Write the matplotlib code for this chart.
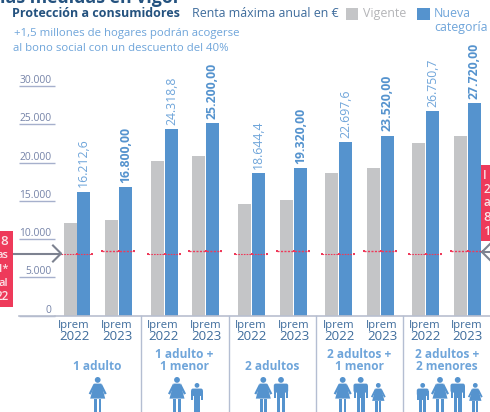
import matplotlib
matplotlib.use("Agg")
import matplotlib.pyplot as plt
from matplotlib.patches import Rectangle, Circle, Polygon, FancyBboxPatch

# ---- data ----
iprem_years = ["2022", "2023"] * 5
vigente = [12100, 12500, 20200, 20860, 14600, 15110, 18640, 19290, 22560, 23470]
nueva = [16212.6, 16800, 24318.8, 25200, 18644.4, 19320, 22697.6, 23520, 26750.7, 27720]
nueva_labels = ["16.212,6", "16.800,00", "24.318,8", "25.200,00", "18.644,4",
                "19.320,00", "22.697,6", "23.520,00", "26.750,7", "27.720,00"]
iprem_refs = [8106.28, 8400] * 5
y_ticks = [0, 5000, 10000, 15000, 20000, 25000, 30000]
y_tick_labels = ["0", "5.000", "10.000", "15.000", "20.000", "25.000", "30.000"]
groups = ["1 adulto", "1 adulto +\n1 menor", "2 adultos", "2 adultos +\n1 menor", "2 adultos +\n2 menores"]

# ---- layout (pixels of the 490x412 picture) ----
W, H = 490, 412
grey_left = [64, 105, 151, 192, 238, 280, 325, 367, 412, 454]
BAR_W = 13
label_x = [74, 117, 163, 206, 251, 294, 339, 382, 425, 467]
group_x = [97, 184, 272, 359, 447]
separators = [141, 228.5, 315.5, 402.5]
people = [("w", 97.7), ("w", 177), ("b", 197), ("w", 263.3), ("m", 281), ("w", 342.7),
          ("m", 360.7), ("g", 378.3), ("b", 422.7), ("w", 440), ("m", 457.7), ("g", 475.3)]

GREY = "#C4C5C7"
BLUE = "#5593CE"
LIGHT = "#6FA5DA"
DARK = "#24527F"
MID = "#3E6C9C"
TICK = "#7583A8"
TICKLINE = "#A6B0CC"
RED = "#EE3A5A"
SEP = "#B4BED2"
FONT = "Open Sans"
plt.rcParams["font.family"] = [FONT, "DejaVu Sans"]

fig = plt.figure(figsize=(W / 100, H / 100), dpi=100, facecolor="white")
ax = fig.add_axes([55 / W, (H - 315.7) / H, (W - 55) / W, 229.7 / H])
ax.set_xlim(55, W)
ax.set_ylim(0, 30000)
ax.patch.set_alpha(0)
for s in ["top", "right", "left"]:
    ax.spines[s].set_visible(False)
ax.spines["bottom"].set_color("#B9BFCF")
ax.spines["bottom"].set_linewidth(1.2)

for i in range(10):
    x = grey_left[i]
    ax.bar(x, vigente[i], width=BAR_W, align="edge", color=GREY, zorder=2)
    bx = x + BAR_W + (0 if i == 0 else 1)
    ax.bar(bx, nueva[i], width=BAR_W, align="edge", color=BLUE, zorder=2)
    bold = i % 2 == 1
    ax.annotate(nueva_labels[i], (bx + BAR_W / 2, nueva[i]), xytext=(0, 3),
                textcoords="offset points", rotation=90, ha="center", va="bottom",
                fontsize=8.8, color=BLUE if bold else LIGHT,
                fontweight="bold" if bold else "normal", zorder=4)
    # reference line of the IPREM across each pair of bars
    x0, x1 = x - 3, bx + BAR_W + 2
    lw = 1.0 if i % 2 == 1 else 0.8
    ax.plot([x0, x1], [iprem_refs[i]] * 2, color=RED, lw=lw, ls=(0, (1.5, 1)), zorder=5)
    ax.plot([x0, bx, x1], [iprem_refs[i]] * 3, ls="", marker="s", ms=1.8, color=RED, mew=0, zorder=6)

# y axis: short rule below each label
ax.set_yticks(y_ticks, y_tick_labels)
ax.tick_params(axis="y", length=26, width=1, color=TICKLINE, labelcolor=TICK,
               labelsize=7.4, pad=-23.5)
for t in ax.get_yticklabels():
    t.set_va("bottom")
    t.set_ha("right")

# x axis
ax.set_xticks(label_x, ["Iprem"] * 10)
ax.tick_params(axis="x", length=0, labelcolor=MID, labelsize=8.1, pad=3)
YEAR_Y = (315.7 - 336) / 229.7 * 30000
for xp, yr in zip(label_x, iprem_years):
    ax.text(xp, YEAR_Y, yr, ha="center", va="center", fontsize=9.5, color=MID, clip_on=False)

# overlay in picture pixels
ov = fig.add_axes([0, 0, 1, 1], zorder=5)
ov.set_xlim(0, W)
ov.set_ylim(H, 0)
ov.axis("off")
ov.patch.set_alpha(0)

for sx in separators:
    ov.plot([sx, sx], [316, H], color=SEP, lw=1)
ov.plot([19, 55], [315.7, 315.7], color="#B9BFCF", lw=1.2)

# top texts
ov.text(0, 3, "las medidas en vigor", fontsize=12.8, fontweight="bold", color=DARK, ha="left", va="baseline")
ov.text(11.5, 13.5, "Protección a consumidores", fontsize=9, fontweight="bold", color=DARK, ha="left", va="center")
ov.text(192, 13.5, "Renta máxima anual en €", fontsize=8.9, color=MID, ha="left", va="center")
ov.add_patch(Rectangle((346, 8), 12, 12, color=GREY, lw=0))
ov.text(363, 13.5, "Vigente", fontsize=8.9, color="#B4B5B8", ha="left", va="center")
ov.add_patch(Rectangle((417, 8), 13, 12, color=BLUE, lw=0))
ov.text(434, 13.5, "Nueva", fontsize=8.9, color=LIGHT, ha="left", va="center")
ov.text(434, 27.5, "categoría", fontsize=8.9, color=LIGHT, ha="left", va="center")
ov.text(14, 33.5, "+1,5 millones de hogares podrán acogerse", fontsize=8.2, color=LIGHT, ha="left", va="center")
ov.text(13, 48, "al bono social con un descuento del 40%", fontsize=8.2, color=LIGHT, ha="left", va="center")

# group names
for gx, name in zip(group_x, groups):
    lines = name.split("\n")
    ys = [367] if len(lines) == 1 else [354, 367]
    for ln, yy in zip(lines, ys):
        ov.text(gx, yy, ln, ha="center", va="center", fontsize=8.6, color=LIGHT, fontweight="bold")

# red side boxes with the cut-off text
ov.add_patch(Rectangle((0, 231), 13, 76, color=RED, lw=0, zorder=6))
for yy, s, sz in [(241, "8", 9.5), (255, "as", 8), (269, "1*", 8), (283, "al", 8), (297, "22", 8.5)]:
    ov.text(8.5, yy, s, ha="right", va="center", color="#FBE3E7", fontsize=sz, fontweight="semibold", zorder=7)
ov.add_patch(Rectangle((481, 165), 9, 76, color=RED, lw=0, zorder=6))
for yy, s, sz in [(175, "I", 8.5), (189, "2", 8.5), (202, "a", 8.5), (217, "8", 9.5), (231, "1", 9.5)]:
    ov.text(483, yy, s, ha="left", va="center", color="#FBE3E7", fontsize=sz, fontweight="semibold", zorder=7)

# arrows
ARW = "#7D8290"
ov.plot([13, 61], [253.5, 253.5], color=ARW, lw=1.5)
ov.plot([53, 61, 53], [245.5, 253.5, 261.5], color=ARW, lw=1.5)
ov.plot([482, 490], [252, 252], color=ARW, lw=1.5)
ov.plot([490, 482, 490], [244, 252, 260], color=ARW, lw=1.5)


def woman(cx, top, s=1.0):
    r = 2.9 * s
    ov.add_patch(Circle((cx, top + r), r, color=BLUE, lw=0))
    y0 = top + 2 * r + 0.8
    ov.add_patch(Polygon([(cx - 3.5 * s, y0), (cx + 3.5 * s, y0), (cx + 7.5 * s, y0 + 15 * s),
                          (cx - 7.5 * s, y0 + 15 * s)], color=BLUE, lw=0))
    ov.add_patch(Polygon([(cx - 4 * s, y0), (cx - 9 * s, y0 + 10 * s), (cx - 7 * s, y0 + 11 * s), (cx - 3 * s, y0 + 3 * s)], color=BLUE, lw=0))
    ov.add_patch(Polygon([(cx + 4 * s, y0), (cx + 9 * s, y0 + 10 * s), (cx + 7 * s, y0 + 11 * s), (cx + 3 * s, y0 + 3 * s)], color=BLUE, lw=0))
    for d in (-3.6, 0.8):
        ov.add_patch(Rectangle((cx + d * s, y0 + 15 * s), 2.8 * s, 20, color=BLUE, lw=0))


def man(cx, top, s=1.0):
    r = 2.9 * s
    ov.add_patch(Circle((cx, top + r), r, color=BLUE, lw=0))
    y0 = top + 2 * r + 0.8
    ov.add_patch(FancyBboxPatch((cx - 7.2 * s, y0), 14.4 * s, 9 * s, boxstyle="round,pad=0,rounding_size=2", color=BLUE, lw=0))
    ov.add_patch(Rectangle((cx - 7.2 * s, y0 + 2), 2.4 * s, 12 * s, color=BLUE, lw=0))
    ov.add_patch(Rectangle((cx + 4.8 * s, y0 + 2), 2.4 * s, 12 * s, color=BLUE, lw=0))
    ov.add_patch(Rectangle((cx - 4 * s, y0), 8 * s, 14 * s, color=BLUE, lw=0))
    for d in (-4, 0.6):
        ov.add_patch(Rectangle((cx + d * s, y0 + 13 * s), 3.4 * s, 20, color=BLUE, lw=0))


for kind, cx in people:
    if kind == "w":
        woman(cx, 377)
    elif kind == "m":
        man(cx, 377)
    elif kind == "b":
        man(cx, 383, 0.82)
    else:
        woman(cx, 383, 0.82)

fig.savefig("out.png", dpi=100, facecolor="white")
